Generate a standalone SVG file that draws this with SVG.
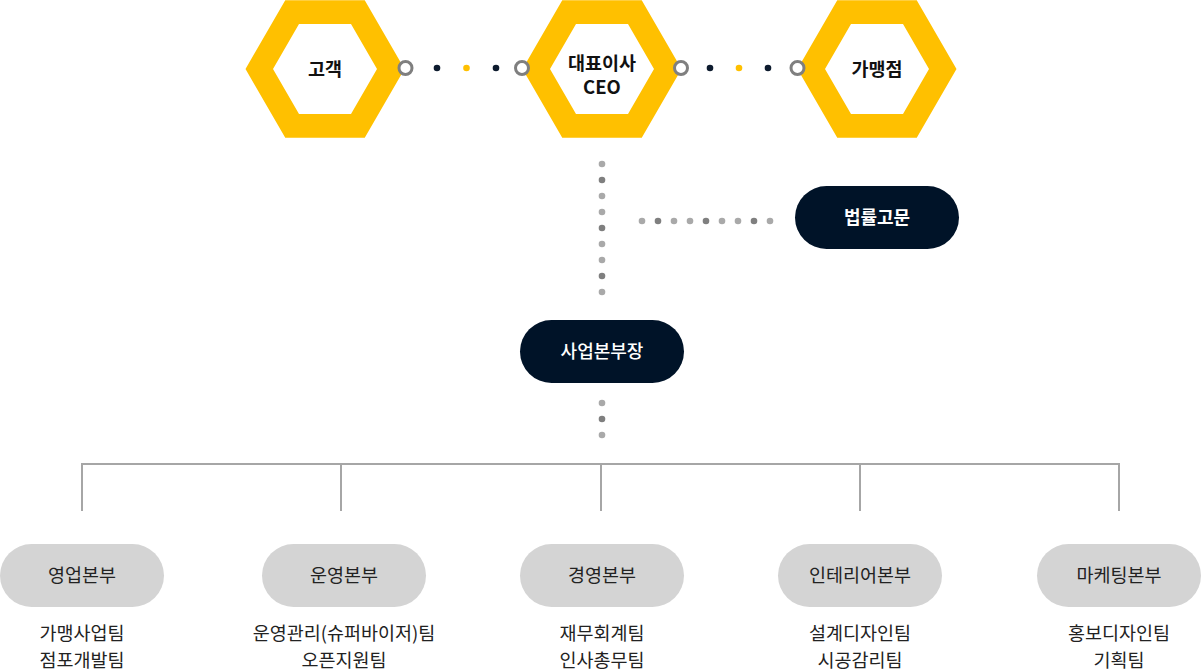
<svg xmlns="http://www.w3.org/2000/svg" xmlns:xlink="http://www.w3.org/1999/xlink" width="1201" height="671" viewBox="0 0 1201 671">
<style>
text{font-family:"Noto Sans CJK KR","Noto Sans",sans-serif;text-anchor:middle}
.hx{font-size:18.5px;font-weight:700;fill:#111}
.dk{font-size:18px;fill:#fff}
.gb{font-size:18.5px;fill:#222}
.sub{font-size:18.5px;fill:#222}
.ring{fill:#fff;stroke:#7f7f7f;stroke-width:3}
.nv{fill:#0d1b2e}
.yl{fill:#ffc000}
.lt{fill:#a9a9a9}
.dd{fill:#7f7f7f}
.ln{stroke:#a6a6a6;stroke-width:2;fill:none}
.dbox{fill:#001328}
.gbox{fill:#d4d4d4}
</style>
<defs>
<path id="hex" fill="#ffc000" fill-rule="evenodd" d="M-79.5,0 L-39.75,-68.85 L39.75,-68.85 L79.5,0 L39.75,68.85 L-39.75,68.85 Z M-52,0 L-26,-45 L26,-45 L52,0 L26,45 L-26,45 Z"/>
</defs>
<g id="customer">
<use xlink:href="#hex" href="#hex" x="325" y="69"/>
<text class="hx" x="325" y="76">고객</text>
</g>
<g id="ceo">
<use xlink:href="#hex" href="#hex" x="602" y="69"/>
<text class="hx" x="602" y="70">대표이사</text>
<text class="hx" x="602" y="94">CEO</text>
</g>
<g id="franchise">
<use xlink:href="#hex" href="#hex" x="877" y="69"/>
<text class="hx" x="877" y="76">가맹점</text>
</g>
<g id="legal">
<rect class="dbox" x="795" y="186" width="164" height="63" rx="31.5"/>
<text class="dk" x="877" y="224" font-weight="700">법률고문</text>
</g>
<g id="bizhead">
<rect class="dbox" x="520" y="320" width="164" height="63" rx="31.5"/>
<text class="dk" x="602" y="358" font-weight="500">사업본부장</text>
</g>
<g id="sales">
<rect class="gbox" x="0" y="544" width="164" height="63" rx="31.5"/>
<text class="gb" x="82" y="582">영업본부</text>
<text class="sub" x="82" y="640">가맹사업팀</text>
<text class="sub" x="82" y="667">점포개발팀</text>
</g>
<g id="operations">
<rect class="gbox" x="262" y="544" width="164" height="63" rx="31.5"/>
<text class="gb" x="344" y="582">운영본부</text>
<text class="sub" x="344" y="640">운영관리(슈퍼바이저)팀</text>
<text class="sub" x="344" y="667">오픈지원팀</text>
</g>
<g id="management">
<rect class="gbox" x="520" y="544" width="164" height="63" rx="31.5"/>
<text class="gb" x="602" y="582">경영본부</text>
<text class="sub" x="602" y="640">재무회계팀</text>
<text class="sub" x="602" y="667">인사총무팀</text>
</g>
<g id="interior">
<rect class="gbox" x="778" y="544" width="164" height="63" rx="31.5"/>
<text class="gb" x="860" y="582">인테리어본부</text>
<text class="sub" x="860" y="640">설계디자인팀</text>
<text class="sub" x="860" y="667">시공감리팀</text>
</g>
<g id="marketing">
<rect class="gbox" x="1037" y="544" width="164" height="63" rx="31.5"/>
<text class="gb" x="1119" y="582">마케팅본부</text>
<text class="sub" x="1119" y="640">홍보디자인팀</text>
<text class="sub" x="1119" y="667">기획팀</text>
</g>
<g id="connectors">
<circle class="nv" cx="437" cy="68" r="3.3"/>
<circle class="yl" cx="466.5" cy="68" r="3.3"/>
<circle class="nv" cx="496" cy="68" r="3.3"/>
<circle class="nv" cx="710" cy="68" r="3.3"/>
<circle class="yl" cx="739" cy="68" r="3.3"/>
<circle class="nv" cx="768" cy="68" r="3.3"/>
<circle class="ring" cx="405.5" cy="68" r="6.5"/>
<circle class="ring" cx="522" cy="68" r="6.5"/>
<circle class="ring" cx="681" cy="68" r="6.5"/>
<circle class="ring" cx="797.5" cy="68" r="6.5"/>
<circle class="lt" cx="602" cy="164" r="3.3"/>
<circle class="dd" cx="602" cy="180" r="3.3"/>
<circle class="lt" cx="602" cy="196" r="3.3"/>
<circle class="lt" cx="602" cy="212" r="3.3"/>
<circle class="dd" cx="602" cy="228" r="3.3"/>
<circle class="lt" cx="602" cy="244" r="3.3"/>
<circle class="lt" cx="602" cy="260" r="3.3"/>
<circle class="dd" cx="602" cy="276" r="3.3"/>
<circle class="lt" cx="602" cy="292" r="3.3"/>
<circle class="lt" cx="642" cy="221" r="3.3"/>
<circle class="dd" cx="658" cy="221" r="3.3"/>
<circle class="lt" cx="674" cy="221" r="3.3"/>
<circle class="lt" cx="690" cy="221" r="3.3"/>
<circle class="dd" cx="706" cy="221" r="3.3"/>
<circle class="lt" cx="722" cy="221" r="3.3"/>
<circle class="lt" cx="738" cy="221" r="3.3"/>
<circle class="dd" cx="754" cy="221" r="3.3"/>
<circle class="lt" cx="770" cy="221" r="3.3"/>
<circle class="lt" cx="602" cy="403" r="3.3"/>
<circle class="dd" cx="602" cy="419" r="3.3"/>
<circle class="lt" cx="602" cy="435" r="3.3"/>
<path class="ln" d="M82,511 V464 H1119 V511 M341,464 V511 M601,464 V511 M860,464 V511"/>
</g>
</svg>
